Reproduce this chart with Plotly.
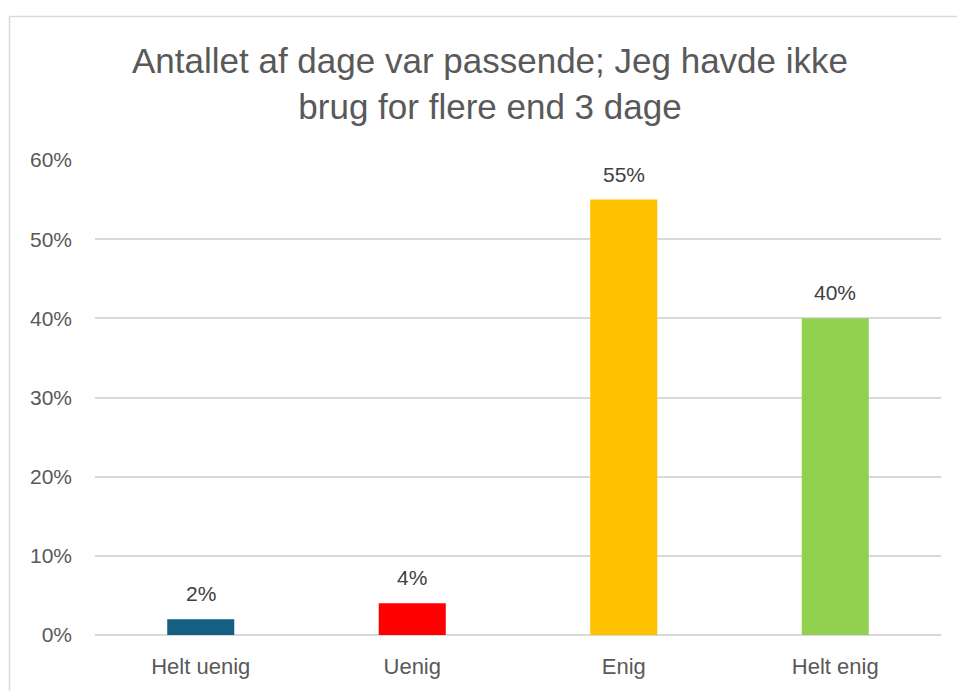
import plotly.graph_objects as go

categories = ["Helt uenig", "Uenig", "Enig", "Helt enig"]
values = [0.02, 0.04, 0.55, 0.40]
colors = ["#156082", "#FF0000", "#FFC000", "#92D050"]
tick_vals = [0, 0.1, 0.2, 0.3, 0.4, 0.5, 0.6]
tick_text = ["0%", "10%", "20%", "30%", "40%", "50%", "60%"]
title_text = "Antallet af dage var passende; Jeg havde ikke<br>brug for flere end 3 dage"

W, H = 957, 691
L, R, T, B = 95, 16, 160, 53
pw, ph = W - L - R, H - T - B
FONT = "Liberation Sans, Arial"

fig = go.Figure()
fig.add_trace(go.Bar(
    x=categories, y=values, marker=dict(color=colors, line=dict(width=0)),
    width=0.317, hoverinfo="skip",
))
for c, v in zip(categories, values):
    fig.add_annotation(x=c, y=v, text=f"{round(v*100)}%", showarrow=False,
                       yanchor="bottom", yshift=12,
                       font=dict(family=FONT, size=21, color="#404040"))

# chart border (top and left edges visible)
bx0 = (9.5 - L) / pw
bx1 = (W + 5 - L) / pw
by1 = 1 + (T - 15.5) / ph
by0 = -(B + 20) / ph
border = dict(color="#D9D9D9", width=1.5)
fig.add_shape(type="line", xref="paper", yref="paper", x0=bx0, x1=bx1, y0=by1, y1=by1,
              line=border, layer="below")
fig.add_shape(type="line", xref="paper", yref="paper", x0=bx0, x1=bx0, y0=by0, y1=by1,
              line=border, layer="below")

fig.update_layout(
    width=W, height=H,
    margin=dict(l=L, r=R, t=T, b=B),
    paper_bgcolor="white", plot_bgcolor="white",
    title=dict(text=title_text, x=490 / W, xanchor="center", y=1 - 73 / H, yanchor="middle",
               font=dict(family=FONT, size=35, color="#595959")),
    showlegend=False,
    xaxis=dict(showgrid=False, showline=False, zeroline=False, ticks="",
               tickfont=dict(family=FONT, size=22, color="#595959"),
               ticklabelstandoff=16, fixedrange=True),
    yaxis=dict(range=[0, 0.6], tickvals=tick_vals, ticktext=tick_text,
               showgrid=True, gridcolor="#D9D9D9", gridwidth=1.5,
               zeroline=True, zerolinecolor="#D9D9D9", zerolinewidth=1.5,
               showline=False, ticks="", ticklabelstandoff=22,
               tickfont=dict(family=FONT, size=21, color="#595959"),
               fixedrange=True),
)

fig.write_html("out.html", config={"displayModeBar": False},
               post_script="document.body.style.margin='0';document.body.style.overflow='hidden';")
